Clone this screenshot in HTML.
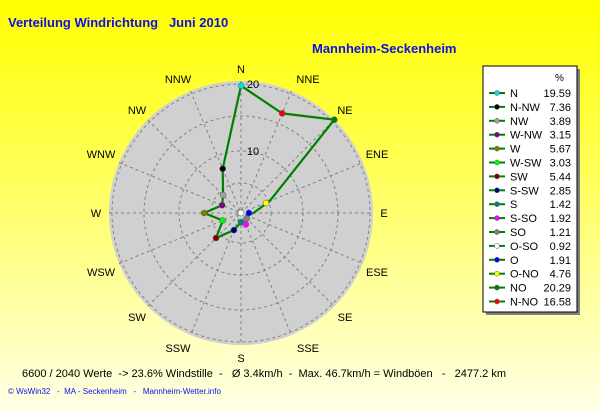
<!DOCTYPE html>
<html><head><meta charset="utf-8"><style>
body{margin:0;width:600px;height:412px;overflow:hidden;background:linear-gradient(#ffff00 0%,#ffff60 45%,#ffffe8 100%);font-family:"Liberation Sans",sans-serif;}
.t{position:absolute;white-space:nowrap}
</style></head><body>
<div class="t" style="left:8px;top:15px;font-size:13px;font-weight:bold;color:#1010e0">Verteilung Windrichtung&nbsp;&nbsp;&nbsp;Juni 2010</div>
<div class="t" style="left:312px;top:41px;font-size:13px;font-weight:bold;color:#1010e0">Mannheim-Seckenheim</div>
<svg width="600" height="412" style="position:absolute;left:0;top:0" font-family="Liberation Sans, sans-serif">
<circle cx="241" cy="213" r="132" fill="#d0d0d0"/>
<g stroke="#808080" stroke-dasharray="3,3" fill="none" stroke-width="1">
<circle cx="241" cy="213" r="30"/><circle cx="241" cy="213" r="62"/><circle cx="241" cy="213" r="97"/><circle cx="241" cy="213" r="129"/>
<line x1="241" y1="81" x2="241" y2="345"/><line x1="109" y1="213" x2="373" y2="213"/>
<line x1="148" y1="120" x2="334" y2="306"/><line x1="148" y1="306" x2="334" y2="120"/>
<line x1="190.5" y1="91" x2="291.5" y2="335"/><line x1="291.5" y1="91" x2="190.5" y2="335"/>
<line x1="119" y1="162.5" x2="363" y2="263.5"/><line x1="119" y1="263.5" x2="363" y2="162.5"/>
</g>
<g font-size="11" fill="#000" text-anchor="middle">
<text x="241" y="73">N</text><text x="308" y="83">NNE</text><text x="345" y="114">NE</text><text x="377" y="158">ENE</text>
<text x="384" y="217">E</text><text x="377" y="276">ESE</text><text x="345" y="321">SE</text><text x="308" y="352">SSE</text>
<text x="241" y="362">S</text><text x="178" y="352">SSW</text><text x="137" y="321">SW</text><text x="101" y="276">WSW</text>
<text x="96" y="217">W</text><text x="101" y="158">WNW</text><text x="137" y="114">NW</text><text x="178" y="83">NNW</text>
<text x="253" y="88">20</text><text x="253" y="155">10</text>
</g>
<polyline fill="none" stroke="#008000" stroke-width="2.2" points="241,85.7 222.7,168.8 223.1,195.1 222.1,205.2 204.1,213 222.8,220.5 216,238 233.9,230.1 241,222.2 245.8,224.5 246.6,218.6 246.5,215.3 253.4,213 269.6,201.2 334.3,119.7 282.2,113.4 241,85.7"/>
<g stroke="#555" stroke-width="0.5">
<circle cx="241" cy="85.7" r="3" fill="#00e0e0"/><circle cx="222.7" cy="168.8" r="3" fill="#000"/><circle cx="223.1" cy="195.1" r="3" fill="#a0a0a0"/>
<circle cx="222.1" cy="205.2" r="3" fill="#800080"/><circle cx="204.1" cy="213" r="3" fill="#808000"/><circle cx="222.8" cy="220.5" r="3" fill="#00ff00"/>
<circle cx="216" cy="238" r="3" fill="#800000"/><circle cx="233.9" cy="230.1" r="3" fill="#000080"/><circle cx="241" cy="222.2" r="3" fill="#008080"/>
<circle cx="245.8" cy="224.5" r="3" fill="#ff00ff"/><circle cx="246.6" cy="218.6" r="3" fill="#808080"/><circle cx="241" cy="213" r="3" fill="#fff"/>
<circle cx="249" cy="213" r="3" fill="#0000ff"/><circle cx="266" cy="203" r="3" fill="#ffff00"/><circle cx="334.3" cy="119.7" r="3" fill="#008000"/>
<circle cx="282.2" cy="113.4" r="3" fill="#ff0000"/>
</g>
<rect x="486" y="69" width="94" height="246" fill="#808080"/>
<rect x="483" y="66" width="94" height="246" fill="#fff" stroke="#000"/>
<text x="555" y="81" font-size="10">%</text>
<g font-size="11" fill="#000">
<g id="lg"></g>
</g>
</svg>
<div class="t" style="left:22px;top:368px;font-size:11px">6600 / 2040 Werte&nbsp;&nbsp;-&gt; 23.6% Windstille&nbsp;&nbsp;-&nbsp;&nbsp;&nbsp;Ø 3.4km/h&nbsp;&nbsp;-&nbsp;&nbsp;Max. 46.7km/h = Windböen&nbsp;&nbsp;&nbsp;-&nbsp;&nbsp;&nbsp;2477.2 km</div>
<div class="t" style="left:8px;top:387px;font-size:8px;color:#1010e0">© WsWin32&nbsp;&nbsp;&nbsp;-&nbsp;&nbsp;MA - Seckenheim&nbsp;&nbsp;&nbsp;-&nbsp;&nbsp;&nbsp;Mannheim-Wetter.info</div>
<script>
var d=[["N","19.59","#00e0e0"],["N-NW","7.36","#000"],["NW","3.89","#a0a0a0"],["W-NW","3.15","#800080"],["W","5.67","#808000"],["W-SW","3.03","#00ff00"],["SW","5.44","#800000"],["S-SW","2.85","#000080"],["S","1.42","#008080"],["S-SO","1.92","#ff00ff"],["SO","1.21","#808080"],["O-SO","0.92","#fff"],["O","1.91","#0000ff"],["O-NO","4.76","#ffff00"],["NO","20.29","#008000"],["N-NO","16.58","#ff0000"]];
var s="";d.forEach(function(e,i){var y=93+i*13.9;s+='<line x1="489" y1="'+y+'" x2="505" y2="'+y+'" stroke="#008000" stroke-width="2"/><circle cx="497" cy="'+y+'" r="2.5" fill="'+e[2]+'" stroke="#555" stroke-width="0.5"/><text x="510" y="'+(y+4)+'">'+e[0]+'</text><text x="571" y="'+(y+4)+'" text-anchor="end">'+e[1]+'</text>';});
document.getElementById("lg").innerHTML=s;
</script>
</body></html>
